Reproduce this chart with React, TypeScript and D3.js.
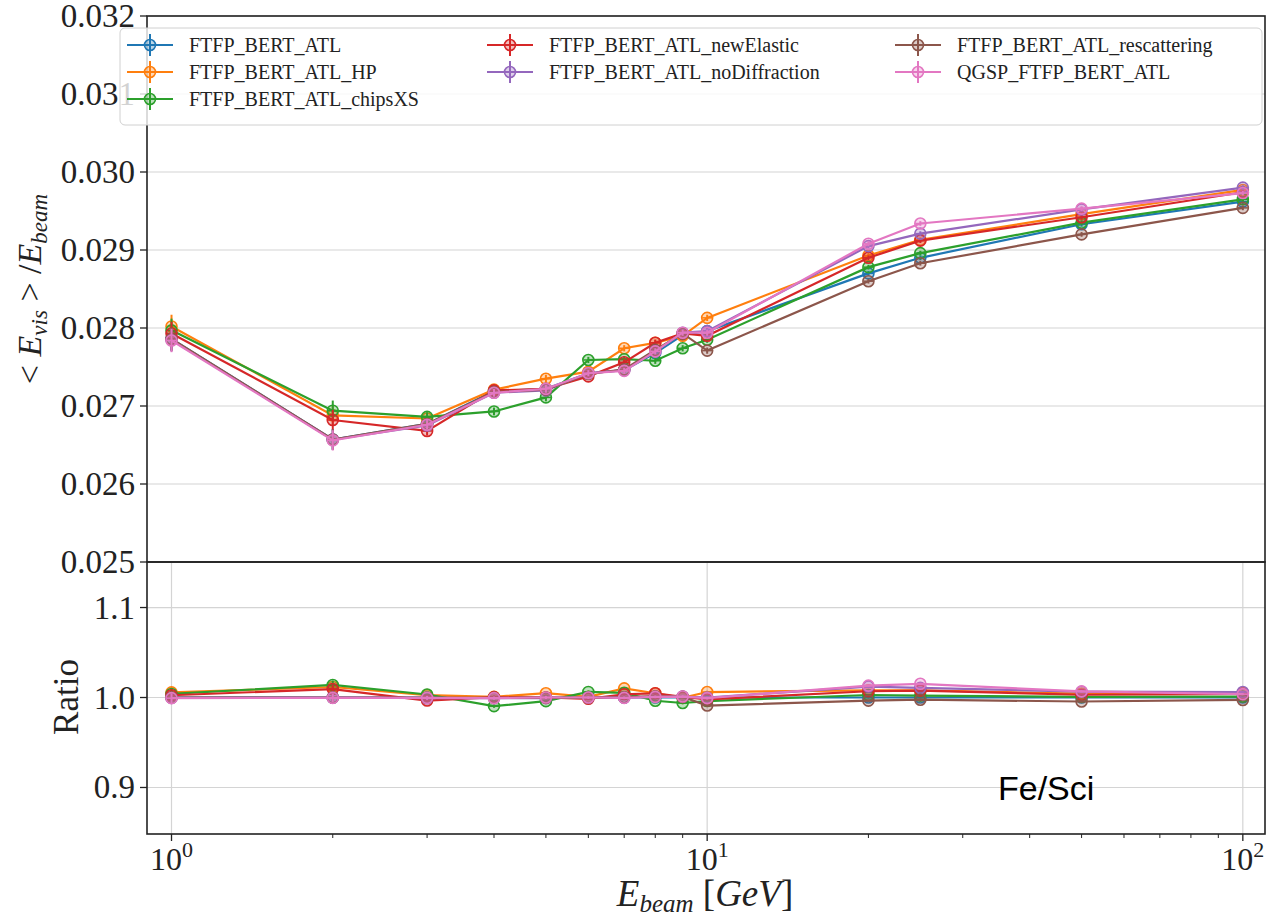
import React from 'react';
import * as d3 from 'd3';

const energies = [1, 2, 3, 4, 5, 6, 7, 8, 9, 10, 20, 25, 50, 100];

const seriesNames = [
  'FTFP_BERT_ATL',
  'FTFP_BERT_ATL_HP',
  'FTFP_BERT_ATL_chipsXS',
  'FTFP_BERT_ATL_newElastic',
  'FTFP_BERT_ATL_noDiffraction',
  'FTFP_BERT_ATL_rescattering',
  'QGSP_FTFP_BERT_ATL',
];

const seriesColors = ['#1f77b4', '#ff7f0e', '#2ca02c', '#d62728', '#9467bd', '#8c564b', '#e377c2'];

const ftfpBertAtl = [0.02786, 0.02657, 0.02677, 0.02719, 0.02722, 0.02742, 0.02746, 0.02768, 0.02791, 0.02796, 0.02870, 0.02890, 0.02933, 0.02962];
const ftfpBertAtlHP = [0.02802, 0.02688, 0.02684, 0.02721, 0.02735, 0.02744, 0.02774, 0.02781, 0.02790, 0.02813, 0.02893, 0.02913, 0.02946, 0.02977];
const ftfpBertAtlChipsXS = [0.02797, 0.02694, 0.02686, 0.02693, 0.02711, 0.02759, 0.02760, 0.02758, 0.02774, 0.02785, 0.02878, 0.02896, 0.02935, 0.02965];
const ftfpBertAtlNewElastic = [0.02793, 0.02682, 0.02668, 0.02720, 0.02722, 0.02738, 0.02756, 0.02781, 0.02793, 0.02790, 0.02890, 0.02912, 0.02942, 0.02974];
const ftfpBertAtlNoDiffraction = [0.02785, 0.02657, 0.02675, 0.02717, 0.02720, 0.02742, 0.02746, 0.02770, 0.02794, 0.02796, 0.02905, 0.02921, 0.02952, 0.02980];
const ftfpBertAtlRescattering = [0.02786, 0.02657, 0.02677, 0.02718, 0.02721, 0.02741, 0.02747, 0.02772, 0.02793, 0.02771, 0.02860, 0.02883, 0.02920, 0.02954];
const qgspFtfpBertAtl = [0.02784, 0.02656, 0.02676, 0.02717, 0.02722, 0.02742, 0.02745, 0.02770, 0.02794, 0.02794, 0.02908, 0.02934, 0.02953, 0.02973];

const errors = [0.00015, 0.00013, 0.00006, 0.00005, 0.00005, 0.00004, 0.00004, 0.00004, 0.00004, 0.00004, 0.00003, 0.00003, 0.00003, 0.00003];

const seriesValues = [
  ftfpBertAtl,
  ftfpBertAtlHP,
  ftfpBertAtlChipsXS,
  ftfpBertAtlNewElastic,
  ftfpBertAtlNoDiffraction,
  ftfpBertAtlRescattering,
  qgspFtfpBertAtl,
];

const yTicksTop = [0.025, 0.026, 0.027, 0.028, 0.029, 0.03, 0.031, 0.032];
const yTickLabelsTop = ['0.025', '0.026', '0.027', '0.028', '0.029', '0.030', '0.031', '0.032'];
const yTicksRatio = [0.9, 1.0, 1.1];
const yTickLabelsRatio = ['0.9', '1.0', '1.1'];
const xMajorTicks = [1, 10, 100];
const xMajorExponents = ['0', '1', '2'];

const W = 1268;
const H = 919;
const L = 147;
const R = 1265;
const TOP = 16;
const MID = 562;
const BOT = 834;

const serif = '"Liberation Serif", "Times New Roman", serif';

export default function App() {
  const x = d3.scaleLog().domain([0.9, 110]).range([L, R]);
  const yTop = d3.scaleLinear().domain([0.025, 0.032]).range([MID, TOP]);
  const yRat = d3.scaleLinear().domain([0.8483, 1.1506]).range([BOT, MID]);

  const ratios = seriesValues.map((vals) => vals.map((v, i) => v / ftfpBertAtl[i]));
  const ratioErr = seriesValues.map((vals) => vals.map((v, i) => errors[i] / ftfpBertAtl[i]));

  const lineTop = d3
    .line<number>()
    .x((_, i) => x(energies[i]))
    .y((d) => yTop(d));
  const lineRat = d3
    .line<number>()
    .x((_, i) => x(energies[i]))
    .y((d) => yRat(d));

  const minorTicks: number[] = [];
  [1, 10].forEach((dec) => {
    for (let k = 2; k <= 9; k++) minorTicks.push(dec * k);
  });

  const gridColor = '#d4d4d4';

  const drawSeries = (
    vals: number[][],
    errs: number[][],
    ys: d3.ScaleLinear<number, number>,
    line: d3.Line<number>,
    clipId: string
  ) =>
    vals.map((sv, si) => (
      <g key={si} clipPath={`url(#${clipId})`}>
        <path d={line(sv) || ''} fill="none" stroke={seriesColors[si]} strokeWidth={2.2} />
        {sv.map((v, i) => {
          const cx = x(energies[i]);
          const cy = ys(v);
          const e = errs[si][i];
          return (
            <g key={i} stroke={seriesColors[si]}>
              <line x1={cx} x2={cx} y1={ys(v - e)} y2={ys(v + e)} strokeWidth={2} />
              <line x1={cx - 5} x2={cx + 5} y1={cy} y2={cy} strokeWidth={1.5} />
              <circle cx={cx} cy={cy} r={5.5} fill={seriesColors[si]} fillOpacity={0.3} strokeWidth={1.6} />
            </g>
          );
        })}
      </g>
    ));

  const legendCols = [127, 487, 895];
  const legendRows = [45, 72, 99];
  const legendLayout = [
    [0, 0],
    [0, 1],
    [0, 2],
    [1, 0],
    [1, 1],
    [2, 0],
    [2, 1],
  ];

  return (
    <div style={{ position: 'absolute', left: 0, top: 0 }}>
      <svg width={W} height={H} xmlns="http://www.w3.org/2000/svg" style={{ display: 'block', background: '#fff' }}>
        <defs>
          <clipPath id="clipTop">
            <rect x={L} y={TOP} width={R - L} height={MID - TOP} />
          </clipPath>
          <clipPath id="clipBot">
            <rect x={L} y={MID} width={R - L} height={BOT - MID} />
          </clipPath>
        </defs>
        <rect x={0} y={0} width={W} height={H} fill="#fff" />

        {/* top grid */}
        {yTicksTop.map((t) => (
          <line key={t} x1={L} x2={R} y1={yTop(t)} y2={yTop(t)} stroke={gridColor} strokeWidth={1.2} />
        ))}
        {/* bottom grid */}
        {yTicksRatio.map((t) => (
          <line key={t} x1={L} x2={R} y1={yRat(t)} y2={yRat(t)} stroke={gridColor} strokeWidth={1.2} />
        ))}
        {xMajorTicks.map((t) => (
          <line key={t} x1={x(t)} x2={x(t)} y1={MID} y2={BOT} stroke={gridColor} strokeWidth={1.2} />
        ))}

        {drawSeries(seriesValues, seriesValues.map(() => errors), yTop, lineTop, 'clipTop')}
        {drawSeries(ratios, ratioErr, yRat, lineRat, 'clipBot')}

        {/* frames */}
        <rect x={L} y={TOP} width={R - L} height={MID - TOP} fill="none" stroke="#222" strokeWidth={1.6} />
        <rect x={L} y={MID} width={R - L} height={BOT - MID} fill="none" stroke="#222" strokeWidth={1.6} />

        {/* top y ticks */}
        {yTicksTop.map((t, i) => (
          <g key={t}>
            <line x1={L - 7} x2={L} y1={yTop(t)} y2={yTop(t)} stroke="#222" strokeWidth={1.3} />
            <text x={L - 12} y={yTop(t) + 11} textAnchor="end" fontFamily={serif} fontSize={33} fill="#222">
              {yTickLabelsTop[i]}
            </text>
          </g>
        ))}
        {/* ratio y ticks */}
        {yTicksRatio.map((t, i) => (
          <g key={t}>
            <line x1={L - 7} x2={L} y1={yRat(t)} y2={yRat(t)} stroke="#222" strokeWidth={1.3} />
            <text x={L - 12} y={yRat(t) + 11} textAnchor="end" fontFamily={serif} fontSize={33} fill="#222">
              {yTickLabelsRatio[i]}
            </text>
          </g>
        ))}
        {/* x ticks */}
        {minorTicks.map((t) => (
          <line key={t} x1={x(t)} x2={x(t)} y1={BOT} y2={BOT + 4} stroke="#222" strokeWidth={1} />
        ))}
        {xMajorTicks.map((t, i) => (
          <g key={t}>
            <line x1={x(t)} x2={x(t)} y1={BOT} y2={BOT + 7} stroke="#222" strokeWidth={1.3} />
            <text x={x(t)} y={870} textAnchor="middle" fontFamily={serif} fontSize={32} fill="#222">
              10
              <tspan fontSize={22} dy={-13}>
                {xMajorExponents[i]}
              </tspan>
            </text>
          </g>
        ))}

        {/* axis labels */}
        <text
          transform="translate(41,289) rotate(-90)"
          textAnchor="middle"
          fontFamily={serif}
          fontSize={34}
          fill="#222"
        >
          {'< '}
          <tspan fontStyle="italic">E</tspan>
          <tspan fontStyle="italic" fontSize={23} dy={6}>
            vis
          </tspan>
          <tspan dy={-6}>{' > /'}</tspan>
          <tspan fontStyle="italic">E</tspan>
          <tspan fontStyle="italic" fontSize={23} dy={6}>
            beam
          </tspan>
        </text>
        <text transform="translate(78,697) rotate(-90)" textAnchor="middle" fontFamily={serif} fontSize={35} fill="#222">
          Ratio
        </text>
        <text x={705} y={906} textAnchor="middle" fontFamily={serif} fontSize={37} fill="#222">
          <tspan fontStyle="italic">E</tspan>
          <tspan fontStyle="italic" fontSize={25} dy={6}>
            beam
          </tspan>
          <tspan dy={-6}>{' ['}</tspan>
          <tspan fontStyle="italic">GeV</tspan>
          <tspan>]</tspan>
        </text>

        <text x={998} y={800} fontFamily='"Liberation Sans", Arial, sans-serif' fontSize={34} fill="#000">
          Fe/Sci
        </text>

        {/* legend */}
        <rect x={120} y={28} width={1142} height={97} rx={5} fill="#fff" fillOpacity={0.8} stroke="#d0d0d0" strokeWidth={1} />
        {seriesNames.map((name, si) => {
          const [c, r] = legendLayout[si];
          const lx = legendCols[c];
          const ly = legendRows[r];
          const col = seriesColors[si];
          return (
            <g key={name}>
              <line x1={lx} x2={lx + 46} y1={ly} y2={ly} stroke={col} strokeWidth={2.2} />
              <line x1={lx + 23} x2={lx + 23} y1={ly - 11} y2={ly + 11} stroke={col} strokeWidth={2} />
              <circle cx={lx + 23} cy={ly} r={5.5} fill={col} fillOpacity={0.3} stroke={col} strokeWidth={1.6} />
              <text x={lx + 62} y={ly + 7} fontFamily={serif} fontSize={20} fill="#222">
                {name}
              </text>
            </g>
          );
        })}
      </svg>
    </div>
  );
}
